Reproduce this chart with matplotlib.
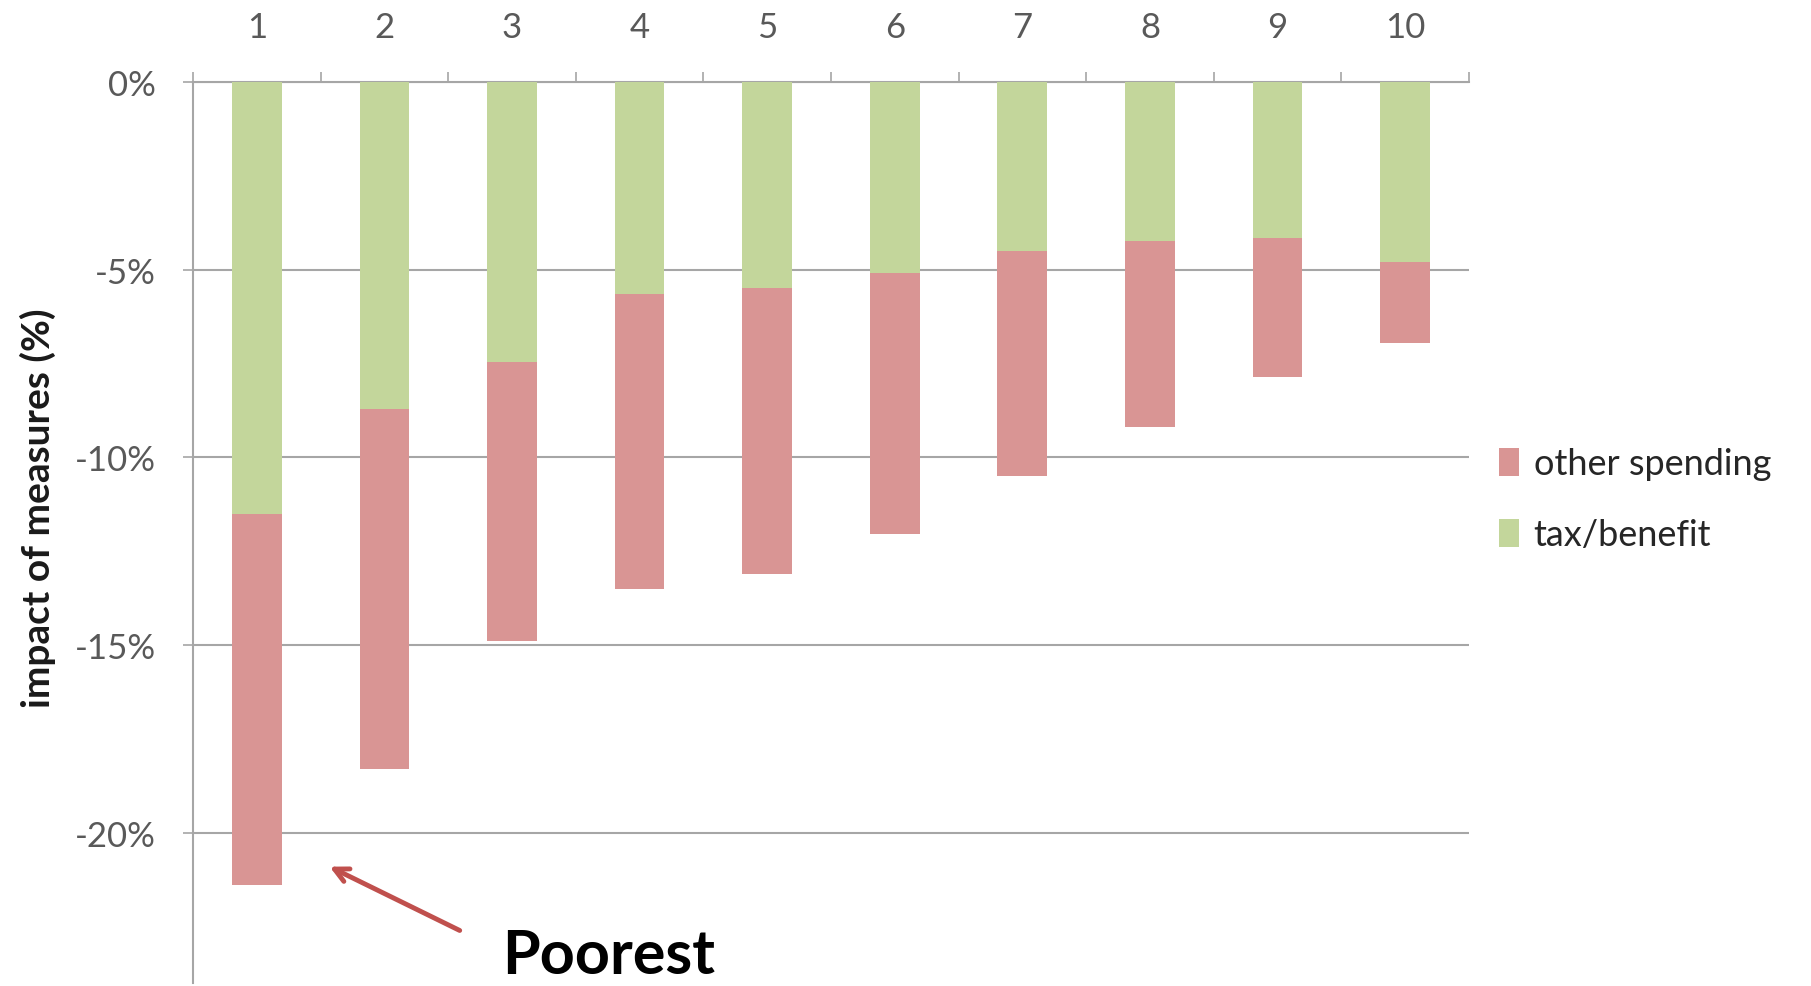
import matplotlib
matplotlib.use("Agg")
import matplotlib.pyplot as plt
import numpy as np

# income deciles, poorest first
deciles = ["1", "2", "3", "4", "5", "6", "7", "8", "9", "10"]
tax_benefit = [-11.5, -8.7, -7.45, -5.65, -5.5, -5.1, -4.5, -4.25, -4.15, -4.8]
other_spending = [-9.9, -9.6, -7.45, -7.85, -7.6, -6.95, -6.0, -4.95, -3.7, -2.15]
y_ticks = [0, -5, -10, -15, -20]

GREEN = "#c3d69b"
PINK = "#d99594"
GRAY = "#595959"

plt.rcParams["font.family"] = ["Lato", "DejaVu Sans"]

fig = plt.figure(figsize=(18.11, 9.87), dpi=100)
ax = fig.add_axes([0.1066, 0.003, 0.7045, 0.913])

x = np.arange(len(deciles))
ax.bar(x, tax_benefit, width=0.39, color=GREEN, label="tax/benefit", zorder=3)
ax.bar(x, other_spending, width=0.39, bottom=tax_benefit, color=PINK,
       label="other spending", zorder=3)

ax.set_xlim(-0.5, len(deciles) - 0.5)
ax.set_ylim(-24, 0)

# category labels on top, separators as minor ticks
ax.xaxis.tick_top()
ax.set_xticks(x)
ax.set_xticklabels(deciles, fontsize=25, color=GRAY)
ax.set_xticks(np.arange(-0.5, len(deciles)), minor=True)
ax.tick_params(axis="x", which="major", length=0, pad=28)
ax.tick_params(axis="x", which="minor", length=7, color="#a6a6a6", width=1.2)

ax.set_yticks(y_ticks)
ax.set_yticklabels(["%d%%" % v for v in y_ticks], fontsize=25, color=GRAY)
ax.tick_params(axis="y", length=7, color="#a6a6a6", width=1.2, pad=20)
ax.grid(axis="y", color="#a6a6a6", linewidth=1.5, zorder=0)

for side in ["right", "bottom"]:
    ax.spines[side].set_visible(False)
for side in ["top", "left"]:
    ax.spines[side].set_color("#a6a6a6")
    ax.spines[side].set_linewidth(1.5)

fig.text(0.021, 0.485, "impact of measures (%)", rotation=90, fontsize=28,
         fontweight="bold", ha="center", va="center", color="#1a1a1a")

# legend, other spending listed first
handles, labels = ax.get_legend_handles_labels()
fig.legend(handles[::-1], labels[::-1], loc="center left",
           bbox_to_anchor=(0.81, 0.493), frameon=False, fontsize=26,
           handlelength=0.55, handleheight=0.8, handletextpad=0.4,
           labelspacing=1.05, labelcolor="#262626")

# annotation pointing at the poorest decile
ax.annotate("", xy=(0.57, -20.9), xytext=(1.59, -22.6),
            annotation_clip=False,
            arrowprops=dict(arrowstyle="->,head_length=1.0,head_width=0.5",
                            color="#c0504d", lw=3.5,
                            shrinkA=0, shrinkB=0))
fig.text(0.336, 0.013, "Poorest", fontsize=44, fontweight="bold",
         color="black", ha="center", va="baseline")

fig.savefig("out.png", dpi=100)
